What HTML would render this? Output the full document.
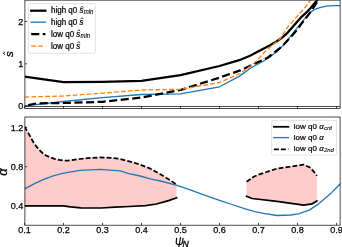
<!DOCTYPE html><html><head><meta charset="utf-8"><style>html,body{margin:0;padding:0;background:#fff;overflow:hidden}svg{display:block;will-change:transform}</style></head><body><svg width="342" height="247" viewBox="0 0 342 247">
<defs><clipPath id="ct"><rect x="24.9" y="0.15" width="315.20000000000005" height="108.35"/></clipPath><clipPath id="cb"><rect x="24.9" y="117.0" width="315.20000000000005" height="108.19999999999999"/></clipPath></defs>
<rect width="342" height="247" fill="#fff"/>
<g clip-path="url(#ct)" fill="none" stroke-linejoin="round">
<polyline points="24.5,76.7 63.5,82.2 102.5,81.8 141.5,80.8 180.5,75.2 219.5,66.0 239.2,60.2 250.0,55.8 260.0,50.6 270.0,45.3 276.0,41.8 281.9,37.8 287.7,32.6 292.6,27.0 297.4,21.4 301.8,16.6 305.7,13.2 310.6,8.0 315.4,2.2 318.5,-1.5" stroke="#000" stroke-width="2.25"/>
<polyline points="24.5,105.8 63.5,101.5 102.5,97.6 141.5,94.5 180.5,93.8 219.5,86.8 239.2,76.4 250.4,68.3 264.5,60.5 270.0,56.8 276.1,52.2 284.0,44.6 288.7,38.6 292.6,33.6 297.4,27.6 301.3,22.6 305.7,17.3 310.6,11.9 315.4,9.2 320.0,7.6 326.0,6.2 333.0,5.7 341.0,5.6" stroke="#1f77b4" stroke-width="1.3"/>
<polyline points="24.5,106.0 37.0,103.3 63.5,103.0 102.5,101.8 141.5,97.6 180.5,90.0 219.5,77.6 240.2,70.4 260.5,61.0 268.0,57.5 273.7,53.0 280.2,47.8 284.0,44.2 290.6,37.2 297.4,29.5 301.8,23.2 305.7,18.5 311.5,10.7 317.4,1.5 320.0,-2.0" stroke="#000" stroke-width="2.25" stroke-dasharray="8.1,3.5" stroke-dashoffset="7.8"/>
<polyline points="24.5,97.1 63.5,96.0 102.5,93.1 141.5,90.0 180.5,89.3 219.5,82.5 240.2,73.4 250.4,66.3 258.0,59.5 264.0,52.6 272.1,45.4 280.2,38.7 287.7,27.0 292.6,21.6 296.0,17.6 300.9,12.0 305.7,6.8 309.6,1.5 312.0,-2.0" stroke="#ff7f0e" stroke-width="1.3" stroke-dasharray="4.8,2.1"/>
</g>
<g clip-path="url(#cb)" stroke-linejoin="round">
<polygon points="24.5,126.6 28.0,132.5 31.3,138.5 34.0,143.3 36.9,147.1 39.5,150.2 42.5,153.0 46.0,155.5 49.9,157.2 54.5,158.8 59.2,159.9 63.7,160.5 68.0,160.6 80.0,159.0 90.0,157.9 100.0,157.4 110.0,157.8 120.0,158.9 130.0,161.6 140.1,164.6 150.2,168.6 160.4,174.3 170.5,180.4 176.6,184.6 176.6,197.8 168.6,200.6 156.4,204.0 145.7,205.6 129.3,206.5 115.0,207.2 101.2,208.0 80.7,207.8 70.5,206.9 63.3,205.8 24.5,205.8" fill="#ffcccc" stroke="none"/>
<polygon points="246.6,181.8 253.7,176.7 258.1,174.8 276.9,168.6 303.8,164.6 310.5,167.8 315.9,174.2 316.9,175.8 316.9,201.0 311.9,203.9 303.8,205.2 276.9,201.4 252.1,198.5 246.6,196.3" fill="#ffcccc" stroke="none"/>
<polyline points="24.5,205.8 63.3,205.8 70.5,206.9 80.7,207.8 101.2,208.0 115.0,207.2 129.3,206.5 145.7,205.6 156.4,204.0 168.6,200.6 176.6,197.8" fill="none" stroke="#000" stroke-width="1.75" stroke-linecap="square"/>
<polyline points="246.6,196.3 252.1,198.5 276.9,201.4 303.8,205.2 311.9,203.9 316.9,201.0" fill="none" stroke="#000" stroke-width="1.75" stroke-linecap="square"/>
<polyline points="24.5,188.9 34.6,183.7 44.3,179.1 54.0,175.6 63.7,173.2 80.0,170.4 100.0,169.3 120.0,170.8 130.0,173.8 140.1,176.0 150.2,178.8 160.4,181.0 176.2,185.2 186.7,188.7 198.4,192.9 210.1,197.1 221.8,201.2 233.5,205.0 245.2,208.8 255.0,211.7 263.5,213.3 276.9,215.5 290.4,215.0 298.4,213.9 309.2,210.1 317.3,204.9 330.7,193.6 340.5,183.5" fill="none" stroke="#1f77b4" stroke-width="1.3"/>
<polyline points="24.5,126.6 28.0,132.5 31.3,138.5 34.0,143.3 36.9,147.1 39.5,150.2 42.5,153.0 46.0,155.5 49.9,157.2 54.5,158.8 59.2,159.9 63.7,160.5 68.0,160.6 80.0,159.0 90.0,157.9 100.0,157.4 110.0,157.8 120.0,158.9 130.0,161.6 140.1,164.6 150.2,168.6 160.4,174.3 170.5,180.4 176.6,184.6" fill="none" stroke="#000" stroke-width="1.75" stroke-dasharray="4.9,2.1"/>
<polyline points="246.6,181.8 253.7,176.7 258.1,174.8 276.9,168.6 303.8,164.6 310.5,167.8 315.9,174.2 316.9,175.8" fill="none" stroke="#000" stroke-width="1.75" stroke-dasharray="4.9,2.1"/>
</g>
<path d="M24.9,106.5H340.1" stroke="#000" stroke-width="0.7"/>
<rect x="24.9" y="0.15" width="315.20000000000005" height="108.35" fill="none" stroke="#000" stroke-width="0.7"/>
<rect x="24.9" y="117.0" width="315.20000000000005" height="108.19999999999999" fill="none" stroke="#000" stroke-width="0.7"/>
<path d="M24.50,108.5v-2.3M24.50,225.2v-2.3M63.50,108.5v-2.3M63.50,225.2v-2.3M102.50,108.5v-2.3M102.50,225.2v-2.3M141.50,108.5v-2.3M141.50,225.2v-2.3M180.50,108.5v-2.3M180.50,225.2v-2.3M219.50,108.5v-2.3M219.50,225.2v-2.3M258.50,108.5v-2.3M258.50,225.2v-2.3M297.50,108.5v-2.3M297.50,225.2v-2.3M336.50,108.5v-2.3M336.50,225.2v-2.3M24.9,106.10h2.3M24.9,63.80h2.3M24.9,21.50h2.3M24.9,206.00h2.3M24.9,166.70h2.3M24.9,127.40h2.3" stroke="#000" stroke-width="0.7" fill="none"/>
<g font-family="'Liberation Sans', sans-serif" font-size="9.0" fill="#000" stroke="#000" stroke-width="0.25">
<text x="23.2" y="109.30" text-anchor="end">0</text>
<text x="23.2" y="67.00" text-anchor="end">1</text>
<text x="23.2" y="24.70" text-anchor="end">2</text>
<text x="23.2" y="209.20" text-anchor="end">0.4</text>
<text x="23.2" y="169.90" text-anchor="end">0.8</text>
<text x="23.2" y="130.60" text-anchor="end">1.2</text>
<text x="24.50" y="233.4" text-anchor="middle">0.1</text>
<text x="63.50" y="233.4" text-anchor="middle">0.2</text>
<text x="102.50" y="233.4" text-anchor="middle">0.3</text>
<text x="141.50" y="233.4" text-anchor="middle">0.4</text>
<text x="180.50" y="233.4" text-anchor="middle">0.5</text>
<text x="219.50" y="233.4" text-anchor="middle">0.6</text>
<text x="258.50" y="233.4" text-anchor="middle">0.7</text>
<text x="297.50" y="233.4" text-anchor="middle">0.8</text>
<text x="336.50" y="233.4" text-anchor="middle">0.9</text>
</g>
<g font-family="'Liberation Sans', sans-serif" fill="#000">
<text transform="translate(13.0,54.0) rotate(-90)" font-size="11.5" font-style="italic" text-anchor="middle" stroke="#000" stroke-width="0.3">s</text>
<path d="M5.1,51.9L3.3,53.3L5.1,54.7" fill="none" stroke="#000" stroke-width="0.9"/>
<text transform="translate(7.1,172.0) rotate(-90)" font-size="13" font-style="italic" text-anchor="middle" stroke="#000" stroke-width="0.3">α</text>
<path d="M176.7,237.9L176.2,242.0Q176.0,244.6 179.2,244.6Q182.3,244.6 182.6,242.0L183.1,237.9M180.6,237.2L178.6,248" fill="none" stroke="#000" stroke-width="1.15"/>
<text x="182.4" y="246.9" font-size="8.6" font-style="italic" stroke="#000" stroke-width="0.3">N</text>
</g>
<rect x="28.4" y="3.7" width="67.0" height="49.599999999999994" rx="1.6" fill="#fff" fill-opacity="0.8" stroke="#d6d6d6" stroke-width="0.7"/>
<rect x="271.6" y="120.4" width="65.0" height="34.69999999999999" rx="1.6" fill="#fff" fill-opacity="0.8" stroke="#d6d6d6" stroke-width="0.7"/>
<path d="M31.2,10.7H45.4" stroke="#000" stroke-width="2.25" stroke-linecap="square" fill="none"/>
<path d="M31.2,22.2H45.4" stroke="#1f77b4" stroke-width="1.3" stroke-linecap="square" fill="none"/>
<path d="M31.2,34.2H45.4" stroke="#000" stroke-width="2.25" stroke-dasharray="8.1,3.5" fill="none"/>
<path d="M31.2,46.1H45.4" stroke="#ff7f0e" stroke-width="1.3" stroke-dasharray="4.8,2.1" fill="none"/>
<g transform="matrix(1,0,0,1.08,0,-1.072)"><text x="51.0" y="13.40" font-family="'Liberation Sans', sans-serif" font-size="8.0" fill="#000" stroke="#000" stroke-width="0.22">high q0</text><text x="79.47" y="13.40" font-family="'Liberation Sans', sans-serif" font-size="8.0" font-style="italic" fill="#000" stroke="#000" stroke-width="0.22">s</text><path d="M80.67,8.10L81.97,6.70L83.27,8.10" fill="none" stroke="#000" stroke-width="0.7"/><text x="83.67" y="14.30" font-family="'Liberation Sans', sans-serif" font-size="6.0" font-style="italic" fill="#000" stroke="#000" stroke-width="0.1">min</text></g>
<g transform="matrix(1,0,0,1.08,0,-1.992)"><text x="51.0" y="24.90" font-family="'Liberation Sans', sans-serif" font-size="8.0" fill="#000" stroke="#000" stroke-width="0.22">high q0</text><text x="79.47" y="24.90" font-family="'Liberation Sans', sans-serif" font-size="8.0" font-style="italic" fill="#000" stroke="#000" stroke-width="0.22">s</text><path d="M80.67,19.60L81.97,18.20L83.27,19.60" fill="none" stroke="#000" stroke-width="0.7"/></g>
<g transform="matrix(1,0,0,1.08,0,-2.952)"><text x="51.0" y="36.90" font-family="'Liberation Sans', sans-serif" font-size="8.0" fill="#000" stroke="#000" stroke-width="0.22">low q0</text><text x="76.34" y="36.90" font-family="'Liberation Sans', sans-serif" font-size="8.0" font-style="italic" fill="#000" stroke="#000" stroke-width="0.22">s</text><path d="M77.54,31.60L78.84,30.20L80.14,31.60" fill="none" stroke="#000" stroke-width="0.7"/><text x="80.54" y="37.80" font-family="'Liberation Sans', sans-serif" font-size="6.0" font-style="italic" fill="#000" stroke="#000" stroke-width="0.1">min</text></g>
<g transform="matrix(1,0,0,1.08,0,-3.904)"><text x="51.0" y="48.80" font-family="'Liberation Sans', sans-serif" font-size="8.0" fill="#000" stroke="#000" stroke-width="0.22">low q0</text><text x="76.34" y="48.80" font-family="'Liberation Sans', sans-serif" font-size="8.0" font-style="italic" fill="#000" stroke="#000" stroke-width="0.22">s</text><path d="M77.54,43.50L78.84,42.10L80.14,43.50" fill="none" stroke="#000" stroke-width="0.7"/></g>
<path d="M273.9,126.8H288.4" stroke="#000" stroke-width="1.75" stroke-linecap="square" fill="none"/>
<path d="M273.9,137.6H288.4" stroke="#1f77b4" stroke-width="1.3" stroke-linecap="square" fill="none"/>
<path d="M273.9,149.4H288.4" stroke="#000" stroke-width="1.75" stroke-dasharray="4.9,2.1" fill="none"/>
<g transform="matrix(1,0,0,0.93,0,9.016)"><text x="293.8" y="128.80" font-family="'Liberation Sans', sans-serif" font-size="8.0" fill="#000" stroke="#000" stroke-width="0.22">low q0</text><text x="319.14" y="128.80" font-family="'Liberation Sans', sans-serif" font-size="8.0" font-style="italic" fill="#000" stroke="#000" stroke-width="0.22">α</text><text x="323.97" y="129.70" font-family="'Liberation Sans', sans-serif" font-size="6.0" font-style="italic" fill="#000" stroke="#000" stroke-width="0.1">crit</text></g>
<g transform="matrix(1,0,0,0.93,0,9.772)"><text x="293.8" y="139.60" font-family="'Liberation Sans', sans-serif" font-size="8.0" fill="#000" stroke="#000" stroke-width="0.22">low q0</text><text x="319.14" y="139.60" font-family="'Liberation Sans', sans-serif" font-size="8.0" font-style="italic" fill="#000" stroke="#000" stroke-width="0.22">α</text></g>
<g transform="matrix(1,0,0,0.93,0,10.598)"><text x="293.8" y="151.40" font-family="'Liberation Sans', sans-serif" font-size="8.0" fill="#000" stroke="#000" stroke-width="0.22">low q0</text><text x="319.14" y="151.40" font-family="'Liberation Sans', sans-serif" font-size="8.0" font-style="italic" fill="#000" stroke="#000" stroke-width="0.22">α</text><text x="323.97" y="152.30" font-family="'Liberation Sans', sans-serif" font-size="6.0" font-style="italic" fill="#000" stroke="#000" stroke-width="0.1">2nd</text></g>
</svg></body></html>
